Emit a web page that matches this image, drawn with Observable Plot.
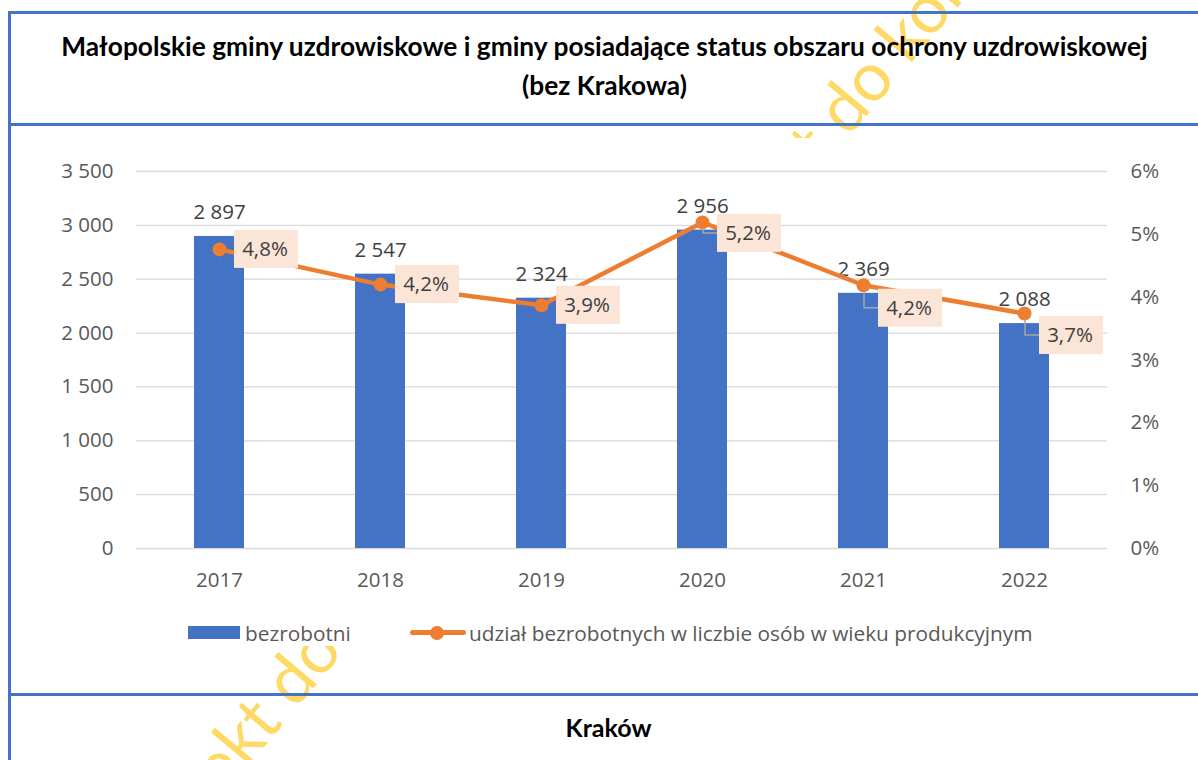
<!DOCTYPE html>
<html lang="pl">
<head>
<meta charset="utf-8">
<script src="https://cdn.jsdelivr.net/npm/d3@7"></script>
<script src="https://cdn.jsdelivr.net/npm/@observablehq/plot@0.6"></script>
<style>
  html, body { margin: 0; padding: 0; background: #fff; }
  body { width: 1198px; height: 760px; position: relative; overflow: hidden; font-family: "Open Sans", sans-serif; }
  .hline { position: absolute; left: 8px; right: 0; height: 3px; background: #4472C4; z-index: 3; }
  .vline { position: absolute; left: 8px; top: 11px; bottom: 0; width: 3px; background: #4472C4; z-index: 3; }
  #wm { position: absolute; left: 0; top: 0; width: 1198px; height: 760px; overflow: hidden; z-index: 0; }
  #wm div { position: absolute; left: 0; top: 0; transform-origin: 0 0; font-family: Lato, sans-serif; font-size: 68px; color: #FFD966; white-space: nowrap; line-height: 1; }
  #cover { position: absolute; left: 11px; right: 0; top: 138px; height: 508px; background: #fff; z-index: 1; }
  #title { position: absolute; left: 11px; right: 0; top: 27px; text-align: center; font-family: Lato, sans-serif; font-weight: 700; font-size: 26.3px; line-height: 39px; color: #000; z-index: 2; }
  #chart { position: absolute; left: 0; top: 128px; z-index: 2; }
  #legend { position: absolute; left: 0; top: 619px; width: 1198px; height: 28px; font-size: 20.8px; color: #595959; z-index: 2; }
  #legend .sw { position: absolute; }
  #legend span { position: absolute; top: 0; line-height: 28px; white-space: nowrap; }
  #krakow { position: absolute; left: 19px; right: 0; top: 712px; text-align: center; font-family: Lato, sans-serif; font-weight: 700; font-size: 25px; color: #000; z-index: 2; }
</style>
</head>
<body>
<div id="wm">
  <div style="transform: translate(654px, 276px) rotate(-50deg)">Projekt do konsultacji</div>
  <div style="transform: translate(101px, 848px) rotate(-50deg)">Projekt do konsultacji</div>
</div>
<div id="cover"></div>
<div class="hline" style="top:11px"></div>
<div class="hline" style="top:123px"></div>
<div class="hline" style="top:693px"></div>
<div class="vline"></div>
<div id="title">Małopolskie gminy uzdrowiskowe i gminy posiadające status obszaru ochrony uzdrowiskowej<br>(bez Krakowa)</div>
<div id="chart"></div>
<div id="legend"></div>
<div id="krakow">Kraków</div>
<script>
// ---- data ----
const years = ["2017", "2018", "2019", "2020", "2021", "2022"];
const unemployed = [2897, 2547, 2324, 2956, 2369, 2088];
const sharePct = [4.76, 4.2, 3.87, 5.19, 4.19, 3.74];
const leftTicks = [0, 500, 1000, 1500, 2000, 2500, 3000, 3500];
const rightTicks = [0, 1, 2, 3, 4, 5, 6];
const seriesNames = ["bezrobotni", "udział bezrobotnych w liczbie osób w wieku produkcyjnym"];
// label vertical shifts (layout of the percentage call-outs, px)
const labelShift = [0, 0, 0, 11, 23, 22];

const BLUE = "#4472C4", ORANGE = "#ED7D31";
const locale = d3.formatLocale({decimal: ",", thousands: "\u00a0", grouping: [3], currency: ["", ""]});
const fmtInt = locale.format(",");
const fmtPct = v => locale.format(".1f")(v) + "%";

const yMax = 3500, pMax = 6, k = yMax / pMax;
const rows = years.map((y, i) => ({year: y, value: unemployed[i], pct: sharePct[i]}));

const chart = Plot.plot({
  width: 1198,
  height: 480,
  marginTop: 43,
  marginBottom: 60,
  marginLeft: 136,
  marginRight: 91,
  style: {fontFamily: "'Open Sans', sans-serif", fontSize: "20.5px", color: "#595959", background: "transparent"},
  x: {type: "band", domain: years, paddingInner: 0.69, paddingOuter: 0.345, label: null},
  y: {domain: [0, yMax], label: null},
  marks: [
    Plot.gridY(leftTicks, {stroke: "#D9D9D9", strokeOpacity: 1, strokeWidth: 1.3}),
    Plot.barY(rows, {x: "year", y: "value", fill: BLUE}),
    Plot.text(rows, {x: "year", y: "value", text: d => fmtInt(d.value), dy: -24, fill: "#404040", fontSize: 20.5}),
    Plot.lineY(rows, {x: "year", y: d => d.pct * k, stroke: ORANGE, strokeWidth: 4.5}),
    Plot.dot(rows, {x: "year", y: d => d.pct * k, r: 7, fill: ORANGE, stroke: "none"}),
    Plot.text(rows, {
      x: "year", y: d => d.pct * k, text: d => fmtPct(d.pct),
      render(index, scales, values) {
        let bw = 0;
        if (scales.x && typeof scales.x.bandwidth === "function") bw = scales.x.bandwidth();
        else if (scales.scales && scales.scales.x && scales.scales.x.bandwidth) bw = scales.scales.x.bandwidth;
        const g = d3.create("svg:g");
        for (const i of index) {
          const px = values.x[i] + bw / 2, py = values.y[i], off = labelShift[i];
          const bx = px + 15, cy = py + off;
          if (off) {
            g.append("path")
              .attr("d", `M${px + 1},${py + 6}V${cy}H${bx}`)
              .attr("fill", "none").attr("stroke", "#A6A6A6").attr("stroke-width", 1.5);
          }
          g.append("rect").attr("x", bx).attr("y", cy - 19).attr("width", 64).attr("height", 38).attr("fill", "#FBE5D6");
          g.append("text").attr("x", bx + 31).attr("y", cy).attr("dy", "0.35em")
            .attr("text-anchor", "middle").attr("fill", "#404040").attr("font-size", 20.5)
            .text(values.text[i]);
        }
        return g.node();
      }
    }),
    Plot.axisY(leftTicks, {anchor: "left", tickSize: 0, tickPadding: 23, tickFormat: fmtInt, fill: "#595959", label: null}),
    Plot.axisY(rightTicks.map(p => p * k), {anchor: "right", tickSize: 0, tickPadding: 23, textAnchor: "start", tickFormat: d => Math.round(d / k) + "%", fill: "#595959", label: null}),
    Plot.axisX({tickSize: 0, tickPadding: 24, fill: "#595959", label: null})
  ]
});
document.getElementById("chart").append(chart);

// legend
const lg = document.getElementById("legend");
lg.innerHTML =
  `<div class="sw" style="left:188px;top:7px;width:52px;height:13px;background:${BLUE}"></div>` +
  `<span style="left:245px">${seriesNames[0]}</span>` +
  `<div class="sw" style="left:410px;top:11px;width:56px;height:5px;border-radius:3px;background:${ORANGE}"></div>` +
  `<div class="sw" style="left:430px;top:6.5px;width:14px;height:14px;border-radius:50%;background:${ORANGE}"></div>` +
  `<span style="left:469px">${seriesNames[1]}</span>`;
</script>
</body>
</html>
